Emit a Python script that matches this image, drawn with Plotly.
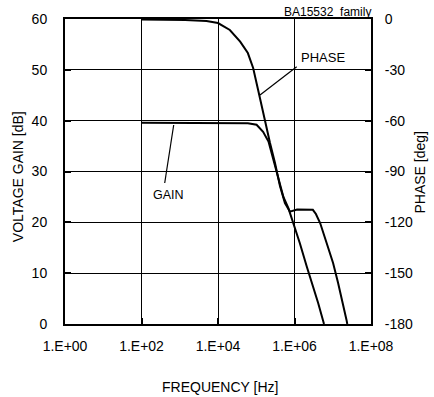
import plotly.graph_objects as go

# ---- data ----
gain_freq = [1.0e2, 1.0e3, 1.0e4, 3.16e4, 6.03e4, 1.02e5, 1.51e5, 2.09e5, 2.82e5,
             3.80e5, 5.13e5, 6.92e5, 9.33e5, 1.38e6, 2.09e6, 3.09e6, 4.17e6, 5.62e6, 5.90e6]
gain_db = [39.6, 39.6, 39.6, 39.6, 39.5, 39.2, 37.8, 35.9, 32.3,
           28.3, 25.0, 22.8, 19.9, 15.9, 11.3, 7.3, 4.1, 0.6, 0.0]

phase_freq = [1.0e2, 1.0e3, 1.38e3, 5.0e3, 1.0e4, 2.04e4, 3.8e4, 6.03e4, 8.3e4, 1.12e5,
              1.51e5, 2.29e5, 3.09e5, 4.17e5, 5.62e5, 7.59e5, 1.17e6, 2.0e6, 3.02e6,
              3.63e6, 4.68e6, 6.92e6, 1.02e7, 1.38e7, 1.86e7, 2.29e7, 2.40e7]
phase_deg = [-0.3, -0.3, -0.6, -1.2, -2.4, -6.5, -13.4, -20.1, -28.9, -41.9,
             -55.5, -73.2, -85.0, -98.6, -108.6, -113.7, -112.4, -112.4, -112.6,
             -115.1, -120.4, -132.2, -144.0, -155.8, -167.6, -177.6, -180.0]

x_tickvals = [1e0, 1e2, 1e4, 1e6, 1e8]
x_ticktext = ["1.E+00", "1.E+02", "1.E+04", "1.E+06", "1.E+08"]
y_tickvals = [0, 10, 20, 30, 40, 50, 60]
y2_tickvals = [0, -30, -60, -90, -120, -150, -180]
y2_ticktext = ["0", "-30", "-60", "-90", "-120", "-150", "-180"]

FONT = "Liberation Sans, Arial, sans-serif"

fig = go.Figure()
fig.add_trace(go.Scatter(x=gain_freq, y=gain_db, mode="lines",
                         line=dict(color="black", width=2), yaxis="y", showlegend=False))
fig.add_trace(go.Scatter(x=phase_freq, y=phase_deg, mode="lines",
                         line=dict(color="black", width=2), yaxis="y2", showlegend=False))

fig.update_layout(
    width=434, height=397,
    margin=dict(l=65, r=63, t=19, b=73),
    plot_bgcolor="white", paper_bgcolor="white",
    font=dict(family=FONT, size=14, color="black"),
    xaxis=dict(type="log", range=[0, 8], tickvals=x_tickvals, ticktext=x_ticktext,
               showgrid=True, gridcolor="black", gridwidth=1,
               showline=True, linecolor="black", linewidth=2, mirror=True,
               ticks="inside", ticklen=6, tickwidth=2, tickcolor="black",
               ticklabelstandoff=8, zeroline=False, automargin=False),
    yaxis=dict(range=[0, 60], tickvals=y_tickvals,
               showgrid=True, gridcolor="black", gridwidth=1,
               showline=True, linecolor="black", linewidth=2, mirror=True,
               ticks="inside", ticklen=6, tickwidth=2, tickcolor="black",
               ticklabelstandoff=13, zeroline=False, automargin=False),
    yaxis2=dict(range=[-180, 0], tickvals=y2_tickvals, ticktext=y2_ticktext,
                overlaying="y", side="right", showgrid=False,
                showline=True, linecolor="black", linewidth=2,
                ticks="inside", ticklen=6, tickwidth=2, tickcolor="black",
                ticklabelstandoff=9, zeroline=False, automargin=False),
)

# axis titles
fig.add_annotation(text="VOLTAGE GAIN [dB]", xref="paper", yref="paper",
                   x=(17.5 - 65) / 306, y=(324 - 176.7) / 305, textangle=-90,
                   showarrow=False, font=dict(size=14), xanchor="center", yanchor="middle")
fig.add_annotation(text="PHASE [deg]", xref="paper", yref="paper",
                   x=(419 - 65) / 306, y=(324 - 172.5) / 305, textangle=-90,
                   showarrow=False, font=dict(size=14), xanchor="center", yanchor="middle")
fig.add_annotation(text="FREQUENCY [Hz]", xref="paper", yref="paper",
                   x=(219.5 - 65) / 306, y=(324 - 386.7) / 305,
                   showarrow=False, font=dict(size=14), xanchor="center", yanchor="middle")
fig.add_annotation(text="BA15532  family", xref="paper", yref="paper",
                   x=(373 - 65) / 306, y=(324 - 12.3) / 305,
                   showarrow=False, font=dict(size=12), xanchor="right", yanchor="middle")

# series labels with leader lines
fig.add_annotation(text="PHASE", xref="paper", yref="paper",
                   x=(322.5 - 65) / 306, y=(324 - 57) / 305,
                   showarrow=False, font=dict(size=13), xanchor="center", yanchor="middle")
fig.add_annotation(text="GAIN", xref="paper", yref="paper",
                   x=(168 - 65) / 306, y=(324 - 195) / 305,
                   showarrow=False, font=dict(size=12.5), xanchor="center", yanchor="middle")
fig.add_shape(type="line", xref="paper", yref="paper",
              x0=(296.7 - 65) / 306, y0=(324 - 66.7) / 305,
              x1=(260 - 65) / 306, y1=(324 - 95) / 305,
              line=dict(color="black", width=1.2))
fig.add_shape(type="line", xref="paper", yref="paper",
              x0=(173.7 - 65) / 306, y0=(324 - 125) / 305,
              x1=(164.7 - 65) / 306, y1=(324 - 183) / 305,
              line=dict(color="black", width=1.2))

fig.write_html("out.html", config={"displayModeBar": False},
               post_script="document.body.style.margin='0';document.body.style.overflow='hidden';")
